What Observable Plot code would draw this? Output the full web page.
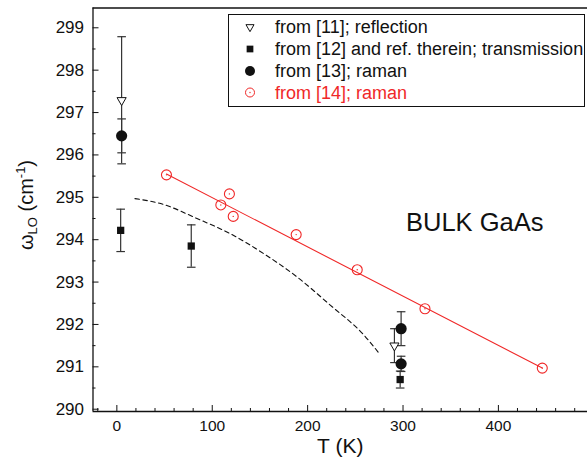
<!DOCTYPE html>
<html><head><meta charset="utf-8">
<script src="https://cdn.jsdelivr.net/npm/d3@7"></script>
<script src="https://cdn.jsdelivr.net/npm/@observablehq/plot@0.6"></script>
<style>
body{margin:0;background:#fff;}
</style></head><body><div id="chart"></div>
<script>
// ---- data ----
const xTicks = [0, 100, 200, 300, 400];
const yTicks = [290, 291, 292, 293, 294, 295, 296, 297, 298, 299];

// from [11]; reflection (open down-triangles)
const r11T = [5, 291];
const r11W = [297.29, 291.5];
const r11E = [1.5, 0.4];
// from [12] and ref. therein; transmission (filled squares)
const r12T = [4, 78, 297];
const r12W = [294.22, 293.85, 290.7];
const r12E = [0.5, 0.5, 0.2];
// from [13]; raman (filled circles)
const r13T = [5, 298, 298];
const r13W = [296.45, 291.9, 291.07];
const r13E = [0.4, 0.4, 0.18];
// from [14]; raman (red open circles)
const r14T = [52, 109, 118, 122, 188, 252, 323, 446];
const r14W = [295.53, 294.82, 295.08, 294.55, 294.12, 293.29, 292.37, 290.97];
// red linear fit
const fitT = [52, 446];
const fitW = [295.55, 290.97];
// dashed theory curve
const dashT = [19, 49, 84, 119, 154, 189, 224, 259, 276];
const dashW = [294.97, 294.83, 294.50, 294.14, 293.67, 293.12, 292.45, 291.75, 291.29];

const legendLabels = ["from [11]; reflection", "from [12] and ref. therein; transmission", "from [13]; raman", "from [14]; raman"];

// ---- build ----
const zip = (T, W, E) => T.map((t, i) => ({T: t, w: W[i], e: E ? E[i] : 0}));
const d11 = zip(r11T, r11W, r11E), d12 = zip(r12T, r12W, r12E), d13 = zip(r13T, r13W, r13E);
const d14 = zip(r14T, r14W), fit = zip(fitT, fitW), dash = zip(dashT, dashW);
const errs = [...d11, ...d12, ...d13];
const RED = "#f02828";
const INK = "#111";
const FONT = "'Liberation Sans', Arial, sans-serif";
const xDomain = [-25, 493.4], yDomain = [289.946, 299.467];
const xMinor = d3.range(-20, 494, 20).filter(v => v % 100 !== 0);
const yMinor = d3.range(290.5, 299.5, 1);

const capSymbol = {draw(ctx, size) { const w = Math.sqrt(size / Math.PI); ctx.moveTo(-w, 0); ctx.lineTo(w, 0); }};

const chart = Plot.plot({
  width: 587, height: 467,
  marginLeft: 92.5, marginRight: 0, marginTop: 7.5, marginBottom: 56,
  style: {fontFamily: FONT, background: "#fff", color: INK, overflow: "visible"},
  x: {domain: xDomain, axis: null, label: null},
  y: {domain: yDomain, axis: null, label: null},
  marks: [
    Plot.line(dash, {x: "T", y: "w", stroke: INK, strokeWidth: 1.1, strokeDasharray: "4.5,3.5", curve: "monotone-x"}),
    Plot.line(fit, {x: "T", y: "w", stroke: RED, strokeWidth: 1.1}),
    Plot.ruleX(errs, {x: "T", y1: d => d.w - d.e, y2: d => d.w + d.e, stroke: "#333", strokeWidth: 1.2}),
    Plot.dot(errs, {x: "T", y: d => d.w + d.e, symbol: capSymbol, r: 4.3, stroke: "#333", strokeWidth: 1.2}),
    Plot.dot(errs, {x: "T", y: d => d.w - d.e, symbol: capSymbol, r: 4.3, stroke: "#333", strokeWidth: 1.2}),
    Plot.dot(d12, {x: "T", y: "w", symbol: "square", r: 4.1, fill: INK, stroke: "none"}),
    Plot.dot(d13, {x: "T", y: "w", symbol: "circle", r: 5.6, fill: INK, stroke: "none"}),
    Plot.dot(d11, {x: "T", y: "w", symbol: "triangle", rotate: 180, r: 3.4, fill: "#fff", stroke: INK, strokeWidth: 1}),
    Plot.dot(d14, {x: "T", y: "w", r: 5, stroke: RED, fill: "none", strokeWidth: 1.1}),
    Plot.dot(d14, {x: "T", y: "w", r: 0.7, fill: RED, stroke: "none"}),
    Plot.ruleX([xDomain[0]], {stroke: INK, strokeWidth: 1.3}),
    Plot.ruleY([yDomain[0], yDomain[1]], {stroke: INK, strokeWidth: 1.3}),
    Plot.axisX(xTicks, {anchor: "bottom", tickSize: 0, tickPadding: 8, fontSize: 15.5, label: null}),
    Plot.axisX(xTicks, {anchor: "bottom", tickSize: 6, dy: -6, fill: "none", label: null}),
    Plot.axisX(xMinor, {anchor: "bottom", tickSize: 3, dy: -3, fill: "none", label: null}),
    Plot.axisY(yTicks, {anchor: "left", tickSize: 0, tickPadding: 9, fontSize: 17, label: null}),
    Plot.axisY(yTicks, {anchor: "left", tickSize: 6, dx: 6, fill: "none", label: null}),
    Plot.axisY(yMinor, {anchor: "left", tickSize: 3, dx: 3, fill: "none", label: null}),
    Plot.text(["BULK GaAs"], {frameAnchor: "top-left", textAnchor: "start", lineAnchor: "middle", dx: 313, dy: 215, fontSize: 25.5, fill: INK}),
    Plot.text(["T (K)"], {frameAnchor: "bottom", lineAnchor: "middle", dy: 35, fontSize: 21, fill: INK})
  ]
});
document.getElementById("chart").appendChild(chart);

// y-axis title with subscript / superscript
const svg = d3.select(chart);
const yl = svg.append("text")
  .attr("transform", "translate(33,205) rotate(-90)")
  .attr("text-anchor", "middle")
  .attr("font-family", FONT).attr("font-size", 20).attr("fill", INK);
yl.append("tspan").text("ω");
yl.append("tspan").attr("font-size", 13).attr("dy", 4).text("LO");
yl.append("tspan").attr("dy", -4).text(" (cm");
yl.append("tspan").attr("font-size", 13).attr("dy", -8).text("-1");
yl.append("tspan").attr("dy", 8).text(")");

// legend inside the plot
const lg = svg.append("g").attr("font-family", FONT).attr("font-size", 18).attr("text-anchor", "start");
lg.append("rect").attr("x", 228.5).attr("y", 14.5).attr("width", 356).attr("height", 92)
  .attr("fill", "#fff").attr("stroke", INK).attr("stroke-width", 1);
const rowY = [27, 49, 71, 92.5];
const sx = 250;
// symbols
lg.append("path").attr("d", d3.symbol(d3.symbolTriangle, Math.PI * 3.0 * 3.0)()).attr("transform", `translate(${sx},${rowY[0]}) rotate(180)`)
  .attr("fill", "#fff").attr("stroke", INK);
lg.append("path").attr("d", d3.symbol(d3.symbolSquare, Math.PI * 3.8 * 3.8)()).attr("transform", `translate(${sx},${rowY[1]})`).attr("fill", INK);
lg.append("circle").attr("cx", sx).attr("cy", rowY[2]).attr("r", 5).attr("fill", INK);
lg.append("circle").attr("cx", sx).attr("cy", rowY[3]).attr("r", 4.5).attr("fill", "none").attr("stroke", RED);
lg.append("circle").attr("cx", sx).attr("cy", rowY[3]).attr("r", 0.7).attr("fill", RED);
legendLabels.forEach((t, i) => {
  lg.append("text").attr("x", 275).attr("y", rowY[i]).attr("dy", "0.36em")
    .attr("fill", i === 3 ? RED : INK).text(t);
});
</script></body></html>
